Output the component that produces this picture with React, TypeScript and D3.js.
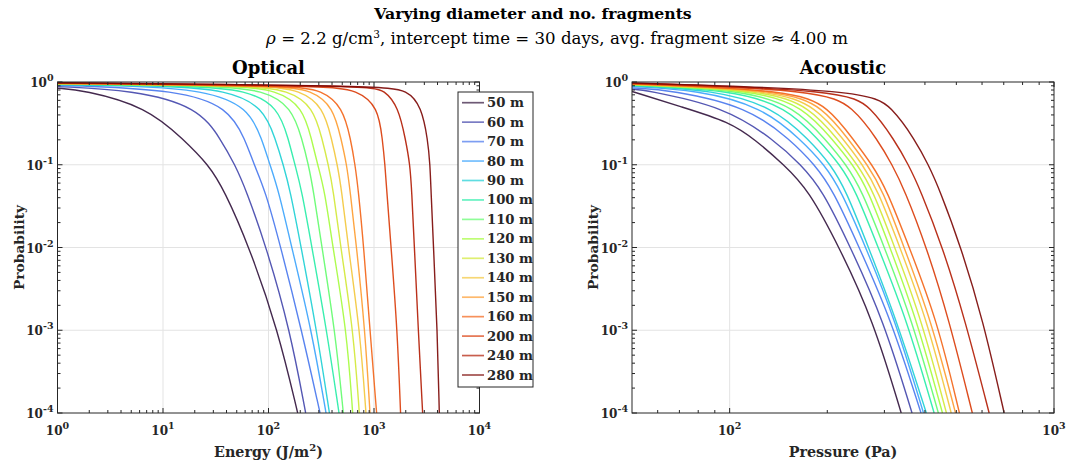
import React from 'react';
import * as d3 from 'd3';

// ---------- data ----------
const diameters = [50, 60, 70, 80, 90, 100, 110, 120, 130, 140, 150, 160, 200, 240, 280];
const lineColors = ['#30123b', '#4145ab', '#4675ed', '#39a2fc', '#1bcfd4', '#24eca6', '#61fc6c', '#a4fc3b', '#d1e834', '#f3c63a', '#fe9b2d', '#f36315', '#d93806', '#b11901', '#7a0402'];

// optical: [energy J/m^2, probability]
const optical50: [number, number][] = [[1, 0.84], [1.76, 0.8], [7.0, 0.5], [15.8, 0.2], [27, 0.1], [37.9, 0.05], [66.1, 0.01], [123, 0.001], [189, 0.0001]];
const optical60: [number, number][] = [[1, 0.88], [5.2, 0.8], [21.6, 0.5], [35.5, 0.2], [48.1, 0.1], [61.2, 0.05], [95.7, 0.01], [160, 0.001], [225, 0.0001]];
const optical70: [number, number][] = [[1, 0.91], [1.6, 0.9], [13.5, 0.8], [41.6, 0.5], [60.3, 0.2], [72.9, 0.1], [92.7, 0.05], [131, 0.01], [206, 0.001], [308, 0.0001]];
const optical80: [number, number][] = [[1, 0.92], [5.2, 0.9], [24.2, 0.8], [64.4, 0.5], [87.1, 0.2], [103, 0.1], [124, 0.05], [166, 0.01], [256, 0.001], [351, 0.0001]];
const optical90: [number, number][] = [[1, 0.93], [10.8, 0.9], [40.1, 0.8], [89.3, 0.5], [117, 0.2], [138, 0.1], [160, 0.05], [204, 0.01], [286, 0.001], [378, 0.0001]];
const optical100: [number, number][] = [[1, 0.94], [19.4, 0.9], [62.1, 0.8], [124, 0.5], [155, 0.2], [178, 0.1], [206, 0.05], [258, 0.01], [356, 0.001], [466, 0.0001]];
const optical110: [number, number][] = [[1, 0.945], [32.3, 0.9], [89.3, 0.8], [166, 0.5], [209, 0.2], [239, 0.1], [266, 0.05], [321, 0.01], [427, 0.001], [512, 0.0001]];
const optical120: [number, number][] = [[1, 0.95], [49.9, 0.9], [119, 0.8], [211, 0.5], [257, 0.2], [292, 0.1], [340, 0.05], [407, 0.01], [551, 0.001], [628, 0.0001]];
const optical130: [number, number][] = [[1, 0.955], [66.8, 0.9], [154, 0.8], [266, 0.5], [324, 0.2], [369, 0.1], [411, 0.05], [483, 0.01], [637, 0.001], [726, 0.0001]];
const optical140: [number, number][] = [[1, 0.96], [96.2, 0.9], [199, 0.8], [331, 0.5], [398, 0.2], [449, 0.1], [493, 0.05], [570, 0.01], [736, 0.001], [839, 0.0001]];
const optical150: [number, number][] = [[1, 0.96], [129, 0.9], [256, 0.8], [411, 0.5], [490, 0.2], [551, 0.1], [592, 0.05], [684, 0.01], [822, 0.001], [916, 0.0001]];
const optical160: [number, number][] = [[1, 0.965], [172, 0.9], [319, 0.8], [505, 0.5], [603, 0.2], [661, 0.1], [710, 0.05], [800, 0.01], [916, 0.001], [1059, 0.0001]];
const optical200: [number, number][] = [[1, 0.97], [355, 0.9], [692, 0.8], [1096, 0.5], [1202, 0.2], [1271, 0.1], [1318, 0.05], [1452, 0.01], [1663, 0.001], [1786, 0.0001]];
const optical240: [number, number][] = [[1, 0.975], [891, 0.9], [1259, 0.8], [1698, 0.5], [1995, 0.2], [2193, 0.1], [2275, 0.05], [2415, 0.01], [2630, 0.001], [2891, 0.0001]];
const optical280: [number, number][] = [[1, 0.98], [1148, 0.9], [2089, 0.8], [2818, 0.5], [3236, 0.2], [3396, 0.1], [3467, 0.05], [3664, 0.01], [3981, 0.001], [4159, 0.0001]];

// acoustic: [pressure Pa, probability]
const acoustic50: [number, number][] = [[50, 0.77], [71.1, 0.5], [100, 0.33], [120, 0.2], [147, 0.1], [175, 0.05], [218, 0.01], [277, 0.00133], [338, 0.0001]];
const acoustic60: [number, number][] = [[50, 0.82], [54.8, 0.8], [96.8, 0.5], [137, 0.2], [166, 0.1], [193, 0.05], [236, 0.01], [298, 0.00133], [365, 0.0001]];
const acoustic70: [number, number][] = [[50, 0.85], [66.2, 0.8], [114, 0.5], [154, 0.2], [183, 0.1], [208, 0.05], [251, 0.01], [315, 0.00133], [389, 0.0001]];
const acoustic80: [number, number][] = [[50, 0.88], [79.8, 0.8], [126, 0.5], [166, 0.2], [196, 0.1], [220, 0.05], [263, 0.01], [324, 0.00133], [396, 0.0001]];
const acoustic90: [number, number][] = [[50, 0.9], [89.9, 0.8], [136, 0.5], [176, 0.2], [205, 0.1], [228, 0.05], [268, 0.01], [327, 0.00133], [404, 0.0001]];
const acoustic100: [number, number][] = [[50, 0.91], [101, 0.8], [150, 0.5], [188, 0.2], [219, 0.1], [244, 0.05], [287, 0.01], [352, 0.00133], [427, 0.0001]];
const acoustic110: [number, number][] = [[50, 0.92], [111, 0.8], [159, 0.5], [198, 0.2], [229, 0.1], [255, 0.05], [300, 0.01], [365, 0.00133], [440, 0.0001]];
const acoustic120: [number, number][] = [[50, 0.93], [121, 0.8], [169, 0.5], [208, 0.2], [240, 0.1], [267, 0.05], [312, 0.01], [378, 0.00133], [453, 0.0001]];
const acoustic130: [number, number][] = [[50, 0.935], [129, 0.8], [177, 0.5], [216, 0.2], [248, 0.1], [276, 0.05], [323, 0.01], [391, 0.00133], [466, 0.0001]];
const acoustic140: [number, number][] = [[50, 0.94], [138, 0.8], [185, 0.5], [225, 0.2], [257, 0.1], [286, 0.05], [335, 0.01], [406, 0.00133], [482, 0.0001]];
const acoustic150: [number, number][] = [[50, 0.945], [147, 0.8], [194, 0.5], [233, 0.2], [266, 0.1], [296, 0.05], [345, 0.01], [418, 0.00133], [497, 0.0001]];
const acoustic160: [number, number][] = [[50, 0.95], [156, 0.8], [202, 0.5], [241, 0.2], [275, 0.1], [305, 0.05], [358, 0.01], [436, 0.00133], [511, 0.0001]];
const acoustic200: [number, number][] = [[50, 0.96], [192, 0.8], [240, 0.5], [286, 0.2], [317, 0.1], [346, 0.05], [405, 0.01], [475, 0.00133], [560, 0.0001]];
const acoustic240: [number, number][] = [[50, 0.97], [227, 0.8], [272, 0.5], [322, 0.2], [356, 0.1], [387, 0.05], [454, 0.01], [532, 0.00133], [631, 0.0001]];
const acoustic280: [number, number][] = [[50, 0.975], [265, 0.8], [316, 0.5], [373, 0.2], [410, 0.1], [444, 0.05], [517, 0.01], [604, 0.00133], [702, 0.0001]];

const opticalCurves = [optical50, optical60, optical70, optical80, optical90, optical100, optical110, optical120, optical130, optical140, optical150, optical160, optical200, optical240, optical280];
const acousticCurves = [acoustic50, acoustic60, acoustic70, acoustic80, acoustic90, acoustic100, acoustic110, acoustic120, acoustic130, acoustic140, acoustic150, acoustic160, acoustic200, acoustic240, acoustic280];

const probDomain: [number, number] = [1e-4, 1];
const probMajorTicks = [1e-4, 1e-3, 1e-2, 1e-1, 1];
const energyDomain: [number, number] = [1, 1e4];
const energyMajorTicks = [1, 10, 100, 1000, 10000];
const pressureDomain: [number, number] = [50, 1000];
const pressureMajorTicks = [100, 1000];

const mainTitle = 'Varying diameter and no. fragments';
const FONT = '"DejaVu Serif", "Liberation Serif", serif';
const AX = '#262626';

function minorTicks(domain: [number, number]) {
  const out: number[] = [];
  const lo = Math.floor(Math.log10(domain[0]));
  const hi = Math.ceil(Math.log10(domain[1]));
  for (let d = lo; d < hi; d++) {
    for (let k = 2; k <= 9; k++) {
      const v = k * Math.pow(10, d);
      if (v > domain[0] * 1.0001 && v < domain[1] * 0.9999) out.push(v);
    }
  }
  return out;
}

function PowLabel({ x, y, v, anchor }: { x: number; y: number; v: number; anchor: string }) {
  const e = Math.round(Math.log10(v));
  return (
    <text x={x} y={y} textAnchor={anchor} fontFamily={FONT} fontWeight="bold" fontSize={12} fill={AX}>
      10<tspan dy={-6} fontSize={9.5}>{String(e)}</tspan>
    </text>
  );
}

interface PanelProps {
  x0: number; x1: number; y0: number; y1: number;
  xDomain: [number, number]; xMajor: number[];
  curves: [number, number][][];
  title: string; xLabel: React.ReactNode; id: string;
}

function Panel({ x0, x1, y0, y1, xDomain, xMajor, curves, title, xLabel, id }: PanelProps) {
  const xs = d3.scaleLog().domain(xDomain).range([x0, x1]);
  const ys = d3.scaleLog().domain(probDomain).range([y1, y0]);
  const line = d3.line<[number, number]>().x(d => xs(d[0])).y(d => ys(d[1])).curve(d3.curveBasis);
  const xMinor = minorTicks(xDomain);
  const yMinor = minorTicks(probDomain);
  const majL = 5, minL = 3;
  return (
    <g>
      <defs>
        <clipPath id={id}><rect x={x0} y={y0} width={x1 - x0} height={y1 - y0} /></clipPath>
      </defs>
      <rect x={x0} y={y0} width={x1 - x0} height={y1 - y0} fill="#fff" />
      {xMajor.filter(v => v > xDomain[0] && v < xDomain[1]).map(v => (
        <line key={'gx' + v} x1={xs(v)} x2={xs(v)} y1={y0} y2={y1} stroke="#e3e3e3" strokeWidth={1} />
      ))}
      {probMajorTicks.filter(v => v > probDomain[0] && v < probDomain[1]).map(v => (
        <line key={'gy' + v} x1={x0} x2={x1} y1={ys(v)} y2={ys(v)} stroke="#e3e3e3" strokeWidth={1} />
      ))}
      <g clipPath={`url(#${id})`}>
        {curves.map((c, i) => (
          <path key={i} d={line(c) || ''} fill="none" stroke={lineColors[i]} strokeWidth={1.4} strokeOpacity={0.9} />
        ))}
      </g>
      {xMajor.map(v => (
        <g key={'tx' + v}>
          <line x1={xs(v)} x2={xs(v)} y1={y1} y2={y1 - majL} stroke={AX} />
          <line x1={xs(v)} x2={xs(v)} y1={y0} y2={y0 + majL} stroke={AX} />
        </g>
      ))}
      {xMinor.map(v => (
        <g key={'mx' + v}>
          <line x1={xs(v)} x2={xs(v)} y1={y1} y2={y1 - minL} stroke={AX} />
          <line x1={xs(v)} x2={xs(v)} y1={y0} y2={y0 + minL} stroke={AX} />
        </g>
      ))}
      {probMajorTicks.map(v => (
        <g key={'ty' + v}>
          <line x1={x0} x2={x0 + majL} y1={ys(v)} y2={ys(v)} stroke={AX} />
          <line x1={x1} x2={x1 - majL} y1={ys(v)} y2={ys(v)} stroke={AX} />
        </g>
      ))}
      {yMinor.map(v => (
        <g key={'my' + v}>
          <line x1={x0} x2={x0 + minL} y1={ys(v)} y2={ys(v)} stroke={AX} />
          <line x1={x1} x2={x1 - minL} y1={ys(v)} y2={ys(v)} stroke={AX} />
        </g>
      ))}
      <rect x={x0} y={y0} width={x1 - x0} height={y1 - y0} fill="none" stroke={AX} strokeWidth={1} />
      {xMajor.map(v => <PowLabel key={'lx' + v} x={xs(v)} y={y1 + 22} v={v} anchor="middle" />)}
      {probMajorTicks.map(v => <PowLabel key={'ly' + v} x={x0 - 4} y={ys(v) + 5} v={v} anchor="end" />)}
      <text x={(x0 + x1) / 2} y={y0 - 8} textAnchor="middle" fontFamily={FONT} fontWeight="bold" fontSize={18} fill="#000">{title}</text>
      <text x={(x0 + x1) / 2} y={y1 + 44} textAnchor="middle" fontFamily={FONT} fontWeight="bold" fontSize={14.3} fill={AX}>{xLabel}</text>
      <text transform={`translate(${x0 - 34},${(y0 + y1) / 2}) rotate(-90)`} textAnchor="middle" fontFamily={FONT} fontWeight="bold" fontSize={13.8} fill={AX}>Probability</text>
    </g>
  );
}

function Legend({ x, y, w, h }: { x: number; y: number; w: number; h: number }) {
  const step = 19.45;
  return (
    <g>
      <rect x={x} y={y} width={w} height={h} fill="#fff" stroke={AX} strokeWidth={1} />
      {diameters.map((d, i) => {
        const cy = y + 10.7 + i * step;
        return (
          <g key={d}>
            <line x1={x + 4} x2={x + 26} y1={cy} y2={cy} stroke={lineColors[i]} strokeWidth={1.7} strokeOpacity={0.7} />
            <text x={x + 29} y={cy + 4.5} fontFamily={FONT} fontWeight="bold" fontSize={13.2} fill={AX}>{`${d} m`}</text>
          </g>
        );
      })}
    </g>
  );
}

export default function App() {
  return (
    <svg width={1067} height={468} style={{ position: 'absolute', left: 0, top: 0, background: '#fff' }}>
      <rect x={0} y={0} width={1067} height={468} fill="#fff" />
      <text x={533} y={19} textAnchor="middle" fontFamily={FONT} fontWeight="bold" fontSize={15.7} fill="#000">{mainTitle}</text>
      <text x={557} y={44} textAnchor="middle" fontFamily={FONT} fontSize={16.6} fill="#000">
        <tspan fontStyle="italic">ρ</tspan> = 2.2 g/cm<tspan dy={-6} fontSize={10.5}>3</tspan><tspan dy={6}>, intercept time = 30 days, avg. fragment size ≈ 4.00 m</tspan>
      </text>
      <Panel id="clipL" x0={57.5} x1={479.5} y0={82} y1={413} xDomain={energyDomain} xMajor={energyMajorTicks}
        curves={opticalCurves} title="Optical"
        xLabel={<>Energy (J/m<tspan dy={-6} fontSize={10}>2</tspan><tspan dy={6}>)</tspan></>} />
      <Panel id="clipR" x0={632} x1={1054} y0={82} y1={413} xDomain={pressureDomain} xMajor={pressureMajorTicks}
        curves={acousticCurves} title="Acoustic" xLabel="Pressure (Pa)" />
      <Legend x={458} y={92} w={75} h={295} />
    </svg>
  );
}
